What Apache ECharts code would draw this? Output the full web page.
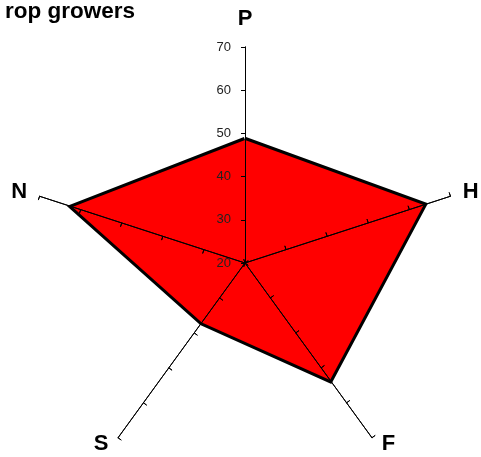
<!DOCTYPE html>
<html>
<head>
<meta charset="utf-8">
<script src="https://cdn.jsdelivr.net/npm/echarts@6/dist/echarts.min.js"></script>
<style>
  html, body { margin: 0; padding: 0; background: #fff; }
  #chart { width: 481px; height: 457px; }
</style>
</head>
<body>
<div id="chart"></div>
<script>
// axes listed counterclockwise from the top (radar draws them that way)
var axisNames = ['P', 'N', 'S', 'F', 'H'];
var values = [48.5, 62, 37, 53.5, 63.5];
var axisMin = 20;
var axisMax = 70;

var chart = echarts.init(document.getElementById('chart'));

// name placement tweaks per axis
var nameGaps = [17, 13, 8, 8, 13];
var namePads = [0, [9, 0, 0, 0], [0, 5, 0, 0], [0, 0, 0, 5], [9, 0, 0, 0]];

// only the top axis carries the scale labels
var indicators = axisNames.map(function (n, i) {
  var ind = { name: n, min: axisMin, max: axisMax, nameGap: nameGaps[i] };
  if (namePads[i]) ind.nameTextStyle = { padding: namePads[i] };
  if (i > 0) ind.axisLabel = { show: false };
  return ind;
});

function radarBase(tickInside) {
  return {
    z: 5,
    center: [245, 263],
    radius: 216,
    startAngle: 90,
    splitNumber: 5,
    shape: 'polygon',
    indicator: indicators,
    axisName: {
      show: !tickInside,
      color: '#000',
      fontFamily: 'Liberation Sans, Arial, sans-serif',
      fontWeight: 'bold',
      fontSize: 22
    },
    splitLine: { show: false },
    splitArea: { show: false },
    axisLine: { show: true, lineStyle: { color: '#000', width: 1 } },
    axisTick: { show: true, inside: tickInside, length: 4, lineStyle: { color: '#000', width: 1 } },
    axisLabel: {
      show: !tickInside,
      color: '#222',
      fontFamily: 'Liberation Sans, Arial, sans-serif',
      fontSize: 13,
      margin: 14
    }
  };
}

chart.setOption({
  animation: false,
  title: {
    text: 'rop growers',
    left: 0,
    top: -5,
    textStyle: {
      color: '#000',
      fontFamily: 'Liberation Sans, Arial, sans-serif',
      fontWeight: 'bold',
      fontSize: 22.5
    }
  },
  radar: [radarBase(false), radarBase(true)],
  series: [{
    type: 'radar',
    radarIndex: 0,
    symbol: 'none',
    z: 1,
    data: [{
      value: values,
      lineStyle: { color: '#000', width: 6, join: 'miter' },
      areaStyle: { color: '#ff0000', opacity: 1 }
    }]
  }]
});
</script>
</body>
</html>
